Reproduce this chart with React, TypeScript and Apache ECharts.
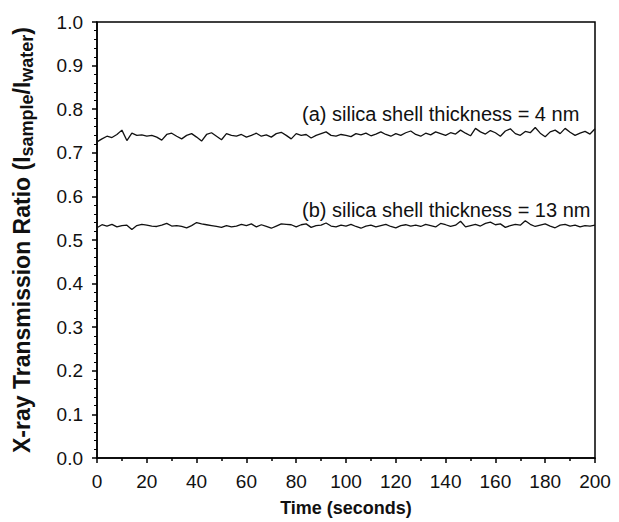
import React, { useEffect, useRef } from "react";
import * as echarts from "echarts";

const times: number[] = [];
for (let t = 0; t <= 200; t += 2) times.push(t);

const seriesA: number[] = [
  0.725, 0.732, 0.738, 0.735, 0.742, 0.752, 0.728, 0.745, 0.740, 0.741,
  0.738, 0.740, 0.736, 0.729, 0.742, 0.745, 0.738, 0.732, 0.740, 0.744,
  0.736, 0.727, 0.742, 0.746, 0.738, 0.730, 0.744, 0.740, 0.738, 0.742,
  0.736, 0.740, 0.745, 0.738, 0.741, 0.736, 0.744, 0.747, 0.740, 0.732,
  0.744, 0.740, 0.742, 0.734, 0.740, 0.744, 0.748, 0.740, 0.738, 0.742,
  0.740, 0.737, 0.744, 0.741, 0.745, 0.739, 0.743, 0.748, 0.742, 0.738,
  0.744, 0.740, 0.746, 0.750, 0.742, 0.738, 0.745, 0.741, 0.748, 0.744,
  0.740, 0.746, 0.743, 0.752, 0.745, 0.739, 0.756, 0.748, 0.743, 0.751,
  0.746, 0.738, 0.750, 0.755, 0.744, 0.740, 0.749, 0.746, 0.758, 0.745,
  0.737, 0.748, 0.752, 0.744, 0.756, 0.747, 0.740, 0.745, 0.749, 0.743,
  0.755,
];

const seriesB: number[] = [
  0.528, 0.535, 0.532, 0.536, 0.530, 0.533, 0.534, 0.524, 0.533, 0.536,
  0.534, 0.532, 0.531, 0.534, 0.538, 0.532, 0.533, 0.531, 0.528, 0.533,
  0.540, 0.537, 0.535, 0.533, 0.531, 0.529, 0.533, 0.530, 0.532, 0.536,
  0.533, 0.537, 0.530, 0.535, 0.531, 0.527, 0.532, 0.537, 0.536, 0.535,
  0.530, 0.535, 0.537, 0.529, 0.533, 0.534, 0.539, 0.532, 0.530, 0.534,
  0.532, 0.536, 0.531, 0.527, 0.532, 0.534, 0.530, 0.533, 0.536, 0.531,
  0.528, 0.533, 0.535, 0.532, 0.534, 0.531, 0.536, 0.533, 0.530, 0.538,
  0.535, 0.531, 0.534, 0.543, 0.530, 0.533, 0.536, 0.532, 0.538, 0.541,
  0.535, 0.537, 0.529, 0.533, 0.536, 0.534, 0.544, 0.536, 0.531, 0.534,
  0.537, 0.532, 0.528, 0.534, 0.536, 0.532, 0.534, 0.530, 0.533, 0.532,
  0.534,
];

const yTicks = [0, 0.1, 0.2, 0.3, 0.4, 0.5, 0.6, 0.7, 0.8, 0.9, 1.0];
const xTicks = [0, 20, 40, 60, 80, 100, 120, 140, 160, 180, 200];
const labelA = "(a) silica shell thickness = 4 nm";
const labelB = "(b) silica shell thickness = 13 nm";

const FONT = "Liberation Sans, Arial, sans-serif";

export default function App() {
  const ref = useRef<HTMLDivElement>(null);
  useEffect(() => {
    if (!ref.current) return;
    const chart = echarts.init(ref.current, null, { renderer: "svg" });
    chart.setOption({
      animation: false,
      backgroundColor: "#ffffff",
      grid: { left: 97, right: 24, top: 22, bottom: 60, show: true, borderColor: "#000", borderWidth: 1.5, backgroundColor: "transparent" },
      xAxis: {
        type: "value",
        min: xTicks[0],
        max: xTicks[xTicks.length - 1],
        interval: 20,
        name: "Time (seconds)",
        nameLocation: "middle",
        nameGap: 41,
        nameTextStyle: { fontFamily: FONT, fontSize: 18, fontWeight: "bold", color: "#111" },
        axisLine: { show: true, lineStyle: { color: "#000", width: 1.5 } },
        axisTick: { show: true, inside: false, length: 5, lineStyle: { color: "#000", width: 1.5 } },
        minorTick: { show: true, splitNumber: 2, length: 3, lineStyle: { color: "#000", width: 1.5 } },
        axisLabel: { fontFamily: FONT, fontSize: 19, color: "#111", margin: 14 },
        splitLine: { show: false },
      },
      yAxis: {
        type: "value",
        min: yTicks[0],
        max: yTicks[yTicks.length - 1],
        interval: 0.1,
        name: "{n|X-ray Transmission Ratio (I}{s|sample}{n|/I}{s|water}{n|)}",
        nameLocation: "middle",
        nameRotate: 90,
        nameGap: 62,
        nameTextStyle: {
          fontFamily: FONT,
          color: "#111",
          rich: {
            n: { fontFamily: FONT, fontSize: 23, fontWeight: "bold", color: "#111", lineHeight: 26 },
            s: { fontFamily: FONT, fontSize: 18, fontWeight: "bold", color: "#111", lineHeight: 26, padding: [10, 0, 0, 0] },
          },
        },
        axisLine: { show: true, lineStyle: { color: "#000", width: 1.5 } },
        axisTick: { show: true, inside: false, length: 5, lineStyle: { color: "#000", width: 1.5 } },
        minorTick: { show: true, splitNumber: 5, length: 3, lineStyle: { color: "#000", width: 1 } },
        axisLabel: { fontFamily: FONT, fontSize: 19, color: "#111", margin: 14, formatter: (v: number) => v.toFixed(1) },
        splitLine: { show: false },
      },
      series: [
        {
          type: "line",
          data: times.map((t, i) => [t, seriesA[i]]),
          showSymbol: false,
          lineStyle: { color: "#111", width: 1.3 },
        },
        {
          type: "line",
          data: times.map((t, i) => [t, seriesB[i]]),
          showSymbol: false,
          lineStyle: { color: "#111", width: 1.3 },
        },
      ],
      graphic: [
        { type: "text", left: 302, top: 104, style: { text: labelA, font: `20px ${FONT}`, fill: "#111" } },
        { type: "text", left: 302, top: 200, style: { text: labelB, font: `20px ${FONT}`, fill: "#111" } },
      ],
    });
    return () => chart.dispose();
  }, []);
  return <div ref={ref} style={{ width: 619, height: 522, position: "absolute", left: 0, top: 0 }} />;
}
